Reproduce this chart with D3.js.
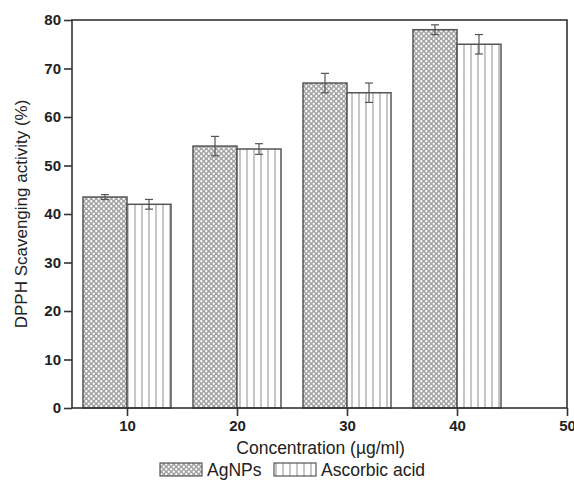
<!DOCTYPE html>
<html>
<head>
<meta charset="utf-8">
<script src="https://cdn.jsdelivr.net/npm/d3@7"></script>
<style>
  html, body { margin: 0; padding: 0; background: #fff; }
  svg { display: block; }
  text { font-family: "Liberation Sans", Arial, sans-serif; fill: #222; }
</style>
</head>
<body>
<svg id="chart" width="574" height="485"></svg>
<script>
// Concentrations and DPPH scavenging activity (%)
const concentrations = [10, 20, 30, 40];
const agnpValues = [43.5, 54.0, 67.0, 78.0];
const agnpErrors = [0.5, 2.0, 2.0, 1.0];
const ascorbicValues = [42.0, 53.4, 65.0, 75.0];
const ascorbicErrors = [1.0, 1.1, 2.0, 2.0];
const xTicks = [10, 20, 30, 40, 50];
const yTicks = [0, 10, 20, 30, 40, 50, 60, 70, 80];
const seriesNames = ["AgNPs", "Ascorbic acid"];
const barWidthUnits = 4;

const svg = d3.select("#chart");
const m = { left: 72, right: 7, top: 20, bottom: 77 };
const W = 574, H = 485;

const x = d3.scaleLinear().domain([5, 50]).range([m.left, W - m.right]);
const y = d3.scaleLinear().domain([0, 80]).range([H - m.bottom, m.top]);

// Fill patterns: dotted cross-hatch and vertical stripes
const defs = svg.append("defs");
const cross = defs.append("pattern").attr("id", "cross")
  .attr("patternUnits", "userSpaceOnUse").attr("width", 5).attr("height", 5);
cross.append("rect").attr("width", 5).attr("height", 5).attr("fill", "#a4a4a4");
cross.append("circle").attr("cx", 1.25).attr("cy", 1.25).attr("r", 1.15).attr("fill", "#fff");
cross.append("circle").attr("cx", 3.75).attr("cy", 3.75).attr("r", 1.15).attr("fill", "#fff");

const vlines = defs.append("pattern").attr("id", "vlines")
  .attr("patternUnits", "userSpaceOnUse").attr("width", 7).attr("height", 7)
  .attr("x", x(10));
vlines.append("rect").attr("width", 7).attr("height", 7).attr("fill", "#fff");
vlines.append("line").attr("x1", 1).attr("x2", 1).attr("y1", 0).attr("y2", 7)
  .attr("stroke", "#a0a0a0").attr("stroke-width", 1.2);

const rows = concentrations.map((c, i) => ({
  c,
  a: agnpValues[i], ae: agnpErrors[i],
  s: ascorbicValues[i], se: ascorbicErrors[i]
}));

const g = svg.append("g");

// AgNPs bars (left of each concentration)
g.selectAll(".bar-a").data(rows).join("rect")
  .attr("x", d => x(d.c - barWidthUnits))
  .attr("width", d => x(d.c) - x(d.c - barWidthUnits))
  .attr("y", d => y(d.a))
  .attr("height", d => y(0) - y(d.a))
  .attr("fill", "url(#cross)")
  .attr("stroke", "#555").attr("stroke-width", 1.5);

// Ascorbic acid bars (right of each concentration)
g.selectAll(".bar-s").data(rows).join("rect")
  .attr("x", d => x(d.c))
  .attr("width", d => x(d.c + barWidthUnits) - x(d.c))
  .attr("y", d => y(d.s))
  .attr("height", d => y(0) - y(d.s))
  .attr("fill", "url(#vlines)")
  .attr("stroke", "#555").attr("stroke-width", 1.5);

// Error bars
const errs = [];
rows.forEach(d => {
  errs.push({ cx: d.c - barWidthUnits / 2, v: d.a, e: d.ae });
  errs.push({ cx: d.c + barWidthUnits / 2, v: d.s, e: d.se });
});
const eg = g.selectAll(".err").data(errs).join("g").attr("stroke", "#555").attr("stroke-width", 1.2);
eg.append("line")
  .attr("x1", d => x(d.cx)).attr("x2", d => x(d.cx))
  .attr("y1", d => y(d.v + d.e)).attr("y2", d => y(d.v - d.e));
eg.append("line")
  .attr("x1", d => x(d.cx) - 4).attr("x2", d => x(d.cx) + 4)
  .attr("y1", d => y(d.v + d.e)).attr("y2", d => y(d.v + d.e));
eg.append("line")
  .attr("x1", d => x(d.cx) - 4).attr("x2", d => x(d.cx) + 4)
  .attr("y1", d => y(d.v - d.e)).attr("y2", d => y(d.v - d.e));

// Frame
svg.append("rect")
  .attr("x", m.left).attr("y", m.top)
  .attr("width", W - m.right - m.left).attr("height", y(0) - m.top)
  .attr("fill", "none").attr("stroke", "#333").attr("stroke-width", 1.6);

// Axes
const xAxis = svg.append("g").attr("transform", `translate(0,${y(0)})`)
  .call(d3.axisBottom(x).tickValues(xTicks).tickSize(8).tickPadding(4));
const yAxis = svg.append("g").attr("transform", `translate(${m.left},0)`)
  .call(d3.axisLeft(y).tickValues(yTicks).tickSize(8).tickPadding(3));
[xAxis, yAxis].forEach(a => {
  a.select(".domain").remove();
  a.selectAll(".tick line").attr("stroke", "#333").attr("stroke-width", 1.6);
  a.selectAll(".tick text").attr("fill", "#222")
    .style("font-family", '"Liberation Sans", Arial, sans-serif')
    .style("font-size", "15px").style("font-weight", "bold");
});

// Axis titles
svg.append("text")
  .attr("x", x(27.6)).attr("y", 454)
  .attr("text-anchor", "middle").style("font-size", "17.5px")
  .text("Concentration (µg/ml)");
svg.append("text")
  .attr("transform", `translate(27,${(m.top + y(0)) / 2}) rotate(-90)`)
  .attr("text-anchor", "middle").style("font-size", "17px")
  .text("DPPH Scavenging activity (%)");

// Legend
const legend = svg.append("g").attr("transform", "translate(160,463)");
const fills = ["url(#cross)", "url(#vlines)"];
const offsets = [0, 114];
seriesNames.forEach((name, i) => {
  const lg = legend.append("g").attr("transform", `translate(${offsets[i]},0)`);
  lg.append("rect").attr("width", 42).attr("height", 13)
    .attr("fill", fills[i]).attr("stroke", "#555").attr("stroke-width", 1.2);
  lg.append("text").attr("x", 47).attr("y", 12.5)
    .style("font-size", "17.5px").text(name);
});
</script>
</body>
</html>
